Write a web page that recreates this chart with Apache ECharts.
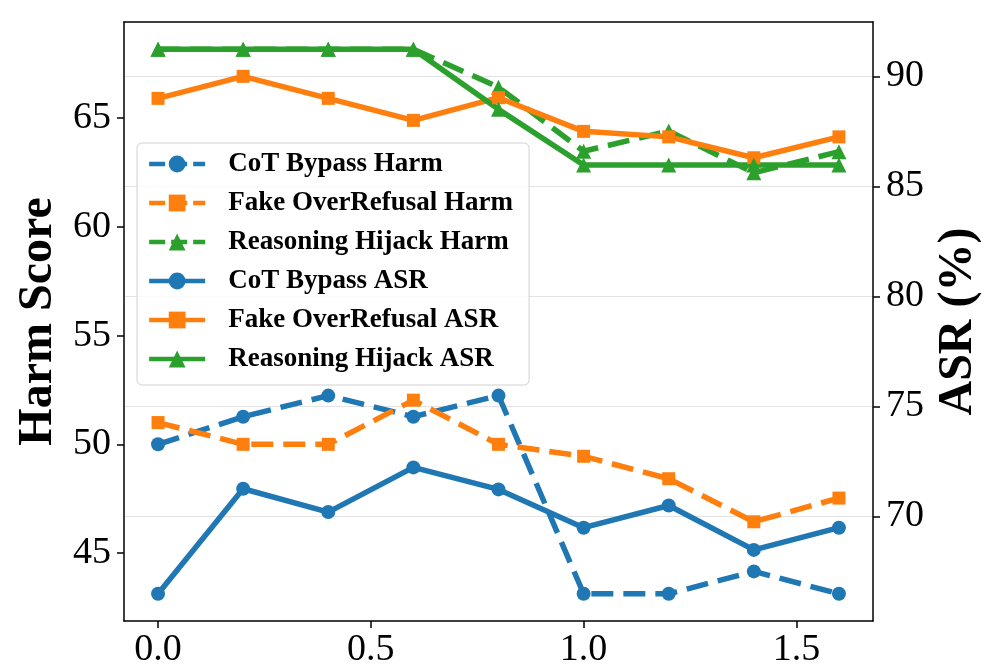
<!DOCTYPE html>
<html>
<head>
<meta charset="utf-8">
<script src="https://cdn.jsdelivr.net/npm/echarts@6/dist/echarts.min.js"></script>
<style>
html,body{margin:0;padding:0;background:#fff;}
#chart{width:997px;height:669px;}
</style>
</head>
<body>
<div id="chart"></div>
<script>
// ---- data ----
var xValues = [0.0, 0.2, 0.4, 0.6, 0.8, 1.0, 1.2, 1.4, 1.6];
var cotBypassHarm      = [50.0, 51.27, 52.24, 51.27, 52.24, 43.13, 43.13, 44.16, 43.13];
var fakeOverRefusalHarm = [51.0, 50.0, 50.0, 52.03, 50.0, 49.45, 48.42, 46.44, 47.53];
var reasoningHijackHarm = [68.16, 68.16, 68.16, 68.16, 66.41, 63.47, 64.4, 62.48, 63.45];
var cotBypassASR       = [66.49, 71.26, 70.2, 72.23, 71.23, 69.49, 70.5, 68.48, 69.49];
var fakeOverRefusalASR  = [89.0, 90.0, 89.0, 88.0, 89.03, 87.5, 87.25, 86.3, 87.25];
var reasoningHijackASR  = [91.23, 91.23, 91.23, 91.23, 88.5, 85.97, 85.97, 85.97, 85.97];
var xTicks = [0.0, 0.5, 1.0, 1.5];
var leftTicks = [45, 50, 55, 60, 65];
var rightTicks = [70, 75, 80, 85, 90];
var seriesNames = ['CoT Bypass Harm', 'Fake OverRefusal Harm', 'Reasoning Hijack Harm',
                   'CoT Bypass ASR', 'Fake OverRefusal ASR', 'Reasoning Hijack ASR'];
var seriesDashed = [true, true, true, false, false, false];

var C_BLUE = '#1f77b4', C_ORANGE = '#ff7f0e', C_GREEN = '#2ca02c';
var FONT = 'Liberation Serif';

function pairs(ys) { return xValues.map(function (x, i) { return [x, ys[i]]; }); }

function mk(name, ys, color, symbol, dashed, yIdx) {
  var size = symbol === 'triangle' ? 15 : (symbol === 'rect' ? 13 : 14);
  return {
    name: name, type: 'line', yAxisIndex: yIdx, xAxisIndex: 0,
    data: pairs(ys), symbol: symbol, symbolSize: size, showSymbol: true,
    itemStyle: { color: color, borderWidth: 0 },
    lineStyle: { color: color, width: 5.5, type: dashed ? [22, 10] : 'solid', cap: 'butt' },
    emphasis: { disabled: true }, animation: false, clip: false
  };
}

var legendData = seriesNames.map(function (n, i) {
  return { name: n, lineStyle: { width: 4.3, type: seriesDashed[i] ? [16, 6] : 'solid' } };
});

var chart = echarts.init(document.getElementById('chart'), null, { renderer: 'canvas' });
chart.setOption({
  backgroundColor: '#fff',
  animation: false,
  grid: { left: 124, right: 124, top: 22, bottom: 43, containLabel: false },
  legend: {
    orient: 'vertical', left: 137, top: 143,
    data: legendData,
    itemWidth: 56, itemHeight: 21, itemGap: 9,
    padding: [6, 16, 11, 10],
    backgroundColor: 'rgba(255,255,255,0.8)',
    borderColor: '#d0d0d0', borderWidth: 1, borderRadius: 5,
    textStyle: { fontFamily: FONT, fontWeight: 'bold', fontSize: 27, color: '#000',
                 lineHeight: 30, padding: [0, 0, 0, 18] },
    selectedMode: false
  },
  xAxis: [{
    type: 'value', min: -0.08, max: 1.68, position: 'bottom',
    axisLine: { show: true, onZero: false, lineStyle: { color: '#000', width: 1.5 } },
    axisTick: { show: true, customValues: xTicks, length: 7, inside: false, lineStyle: { color: '#000', width: 1.5 } },
    axisLabel: { customValues: xTicks, margin: 10, fontFamily: FONT, fontSize: 38, color: '#000',
                 formatter: function (v) { return v.toFixed(1); } },
    splitLine: { show: false }
  }, {
    type: 'value', min: -0.08, max: 1.68, position: 'top',
    axisLine: { show: true, onZero: false, lineStyle: { color: '#000', width: 1.5 } },
    axisTick: { show: false }, axisLabel: { show: false }, splitLine: { show: false }
  }],
  yAxis: [{
    type: 'value', min: 41.88, max: 69.41, position: 'left',
    name: 'Harm Score', nameLocation: 'middle', nameGap: 60, nameRotate: 90,
    nameTextStyle: { fontFamily: FONT, fontWeight: 'bold', fontSize: 48, color: '#000' },
    axisLine: { show: true, onZero: false, lineStyle: { color: '#000', width: 1.5 } },
    axisTick: { show: true, customValues: leftTicks, length: 7, lineStyle: { color: '#000', width: 1.5 } },
    axisLabel: { customValues: leftTicks, margin: 13, fontFamily: FONT, fontSize: 38, color: '#000' },
    splitLine: { show: false }
  }, {
    type: 'value', min: 65.25, max: 92.47, position: 'right',
    name: 'ASR (%)', nameLocation: 'middle', nameGap: 56, nameRotate: 90,
    nameTextStyle: { fontFamily: FONT, fontWeight: 'bold', fontSize: 48, color: '#000' },
    axisLine: { show: true, onZero: false, lineStyle: { color: '#000', width: 1.5 } },
    axisTick: { show: true, customValues: rightTicks, length: 7, lineStyle: { color: '#000', width: 1.5 } },
    axisLabel: { customValues: rightTicks, margin: 13, fontFamily: FONT, fontSize: 38, color: '#000' },
    splitLine: { show: true, lineStyle: { color: '#e3e3e3', width: 1.2 } }
  }],
  series: [
    mk(seriesNames[0], cotBypassHarm, C_BLUE, 'circle', true, 0),
    mk(seriesNames[1], fakeOverRefusalHarm, C_ORANGE, 'rect', true, 0),
    mk(seriesNames[2], reasoningHijackHarm, C_GREEN, 'triangle', true, 0),
    mk(seriesNames[3], cotBypassASR, C_BLUE, 'circle', false, 1),
    mk(seriesNames[4], fakeOverRefusalASR, C_ORANGE, 'rect', false, 1),
    mk(seriesNames[5], reasoningHijackASR, C_GREEN, 'triangle', false, 1)
  ]
});
</script>
</body>
</html>
